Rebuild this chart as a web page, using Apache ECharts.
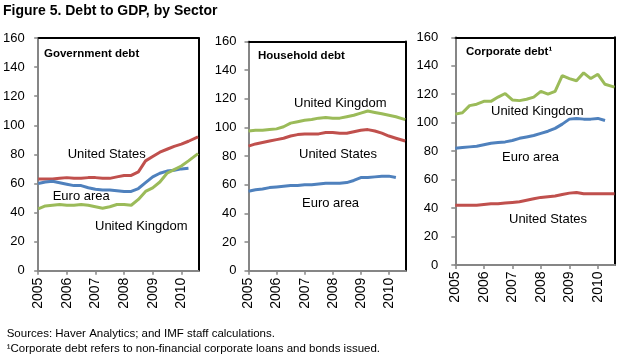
<!DOCTYPE html>
<html>
<head>
<meta charset="utf-8">
<script src="https://cdn.jsdelivr.net/npm/echarts@6/dist/echarts.min.js"></script>
<style>
html,body{margin:0;padding:0;background:#fff;}
#chart{width:623px;height:359px;}
</style>
</head>
<body>
<div id="chart"></div>
<script>
// Quarterly observations (last one ~Aug 2010)
const periods = ["2005-01","2005-04","2005-07","2005-10","2006-01","2006-04","2006-07","2006-10",
  "2007-01","2007-04","2007-07","2007-10","2008-01","2008-04","2008-07","2008-10",
  "2009-01","2009-04","2009-07","2009-10","2010-01","2010-04","2010-08"];
const yearTicks = [2005, 2006, 2007, 2008, 2009, 2010];
const panelTitles = ["Government debt", "Household debt", "Corporate debt\u00b9"];
const seriesNames = ["United States", "Euro area", "United Kingdom"];

// Government debt (% of GDP)
const govUS = [63,63,63,63.5,64,63.5,63.5,64,64,63.5,63.5,64.5,65.5,65.5,68,75.5,78.5,81.5,83.5,85.5,87,89,92];
const govEA = [60,61,61.5,60.5,59.5,58.5,58.5,57,56,55.5,55.5,55,54.5,54.5,56.5,60.5,64.5,67,68.5,69,70,70.5];
const govUK = [42.5,44.5,45,45.5,45,45,45.5,45,44,43,44,45.5,45.5,45,49,54.5,57,61,67,69.5,72,75.5,80.5];

// Household debt
const hhUS = [87,88.5,89.5,90.5,91.5,92.5,94,95,95.5,95.5,95.5,96.5,96.5,96,96,97,98,98.5,97.5,96,94,92.5,90.5];
const hhEA = [55.5,56.5,57,58,58.5,59,59.5,59.5,60,60,60.5,61,61,61,61.5,63,65,65,65.5,66,66,65];
const hhUK = [97.5,98,98,98.5,99,100.5,103,104,105,105.5,106.5,107,106.5,106.5,107.5,108.5,110,111.5,110.5,109.5,108.5,107.5,105.5];

// Corporate debt
const coUS = [42,42,42,42,42.5,43,43,43.5,44,44.5,45.5,46.5,47.5,48,48.5,49.5,50.5,51,50,50,50,50,50];
const coEA = [82,82.5,83,83.5,84.5,85.5,86,86.5,87.5,89,90,91,92.5,94,96,99,102.5,103,102.5,102.5,103,101.5];
const coUK = [106,107,112,113,115,115,118,120.5,116,115.5,116.5,118,122,120,122,133,131,129.5,135,131,134,127,125];

const colors = {"United States":"#C0504D", "Euro area":"#4F81BD", "United Kingdom":"#9BBB59"};
const FONT = "'Liberation Sans', Arial, sans-serif";

function toYear(p){ const [y,m] = p.split("-").map(Number); return y + (m-1)/12; }
function pairs(vals){ return vals.map((v,i)=>[toYear(periods[i]), v]); }

const panels = [
  {data:{"United States":govUS,"Euro area":govEA,"United Kingdom":govUK},
   grid:{left:35.5, top:38, width:163, height:232.7}, ym:13.5, xm:7},
  {data:{"United States":hhUS,"Euro area":hhEA,"United Kingdom":hhUK},
   grid:{left:248.5, top:41.5, width:157.2, height:229.2}, ym:12, xm:7},
  {data:{"United States":coUS,"Euro area":coEA,"United Kingdom":coUK},
   grid:{left:455.3, top:37.3, width:159.7, height:227.7}, ym:17, xm:6.5}
];

const XMIN = 2005, XMAX = 2010.6;
const grids = [], xAxes = [], yAxes = [], series = [];
panels.forEach((p, gi) => {
  grids.push(Object.assign({containLabel:false}, p.grid));
  // bottom axis
  xAxes.push({type:'value', gridIndex:gi, min:XMIN, max:XMAX, interval:1, position:'bottom',
    axisLine:{show:true, onZero:false, lineStyle:{color:'#868686', width:2}},
    axisTick:{show:true, length:4, customValues:yearTicks, lineStyle:{color:'#868686', width:1.5}},
    axisLabel:{rotate:90, margin:p.xm, fontSize:14, color:'#000', fontFamily:FONT,
      customValues:yearTicks, formatter:v=>String(Math.round(v))},
    splitLine:{show:false}});
  // top border
  xAxes.push({type:'value', gridIndex:gi, min:XMIN, max:XMAX, position:'top',
    axisLine:{show:true, onZero:false, lineStyle:{color:'#000', width:2}},
    axisTick:{show:false}, axisLabel:{show:false}, splitLine:{show:false}});
  // left axis
  yAxes.push({type:'value', gridIndex:gi, min:0, max:160, interval:20, position:'left',
    axisLine:{show:true, onZero:false, lineStyle:{color:'#868686', width:2}},
    axisTick:{show:true, length:4, lineStyle:{color:'#868686', width:1.5}},
    axisLabel:{margin:p.ym, fontSize:13, color:'#000', fontFamily:FONT},
    splitLine:{show:false}});
  // right border
  yAxes.push({type:'value', gridIndex:gi, min:0, max:160, position:'right',
    axisLine:{show:true, onZero:false, lineStyle:{color:'#000', width:2}},
    axisTick:{show:false}, axisLabel:{show:false}, splitLine:{show:false}});
  seriesNames.forEach(name => {
    series.push({type:'line', name:name, xAxisIndex:gi*2, yAxisIndex:gi*2,
      data:pairs(p.data[name]), showSymbol:false, symbol:'none', silent:true,
      lineStyle:{color:colors[name], width:3}, itemStyle:{color:colors[name]}, z:3});
  });
});

function txt(x, y, s, size, bold){
  return {type:'text', left:x, top:y, z:100,
    style:{text:s, fontSize:size, fontWeight:bold?'bold':'normal', fontFamily:FONT, fill:'#000',
      textVerticalAlign:'middle', textAlign:'left'}};
}
const labelPos = [
  [[67.7,154],[52.7,196],[95,226]],
  [[299,154],[302,203],[294,103]],
  [[509,219],[502,157],[491,111]]
];
const titlePos = [[44,54],[258,56],[466,52]];

const graphics = [];
graphics.push({type:'text', x:3, y:11, z:100, style:{text:"Figure 5. Debt to GDP, by Sector", fontSize:14, fontWeight:'bold', fontFamily:FONT, fill:'#000', verticalAlign:'middle', align:'left'}});
panelTitles.forEach((t,i)=>graphics.push({type:'text', x:titlePos[i][0], y:titlePos[i][1], z:100, style:{text:t, fontSize:11.5, fontWeight:'bold', fontFamily:FONT, fill:'#000', verticalAlign:'middle', align:'left'}}));
labelPos.forEach((arr,i)=>arr.forEach((pos,j)=>graphics.push({type:'text', x:pos[0], y:pos[1], z:100, style:{text:seriesNames[j], fontSize:13, fontFamily:FONT, fill:'#000', verticalAlign:'middle', align:'left'}})));
graphics.push({type:'text', x:6.7, y:334, z:100, style:{text:"Sources: Haver Analytics; and IMF staff calculations.", fontSize:11.5, fontFamily:FONT, fill:'#000', verticalAlign:'middle', align:'left'}});
graphics.push({type:'text', x:6.7, y:349, z:100, style:{text:"\u00b9Corporate debt refers to non-financial corporate loans and bonds issued.", fontSize:11.5, fontFamily:FONT, fill:'#000', verticalAlign:'middle', align:'left'}});

const chart = echarts.init(document.getElementById('chart'), null, {renderer:'canvas'});
chart.setOption({
  animation:false,
  backgroundColor:'#fff',
  grid:grids, xAxis:xAxes, yAxis:yAxes, series:series,
  graphic:graphics
});
</script>
</body>
</html>
